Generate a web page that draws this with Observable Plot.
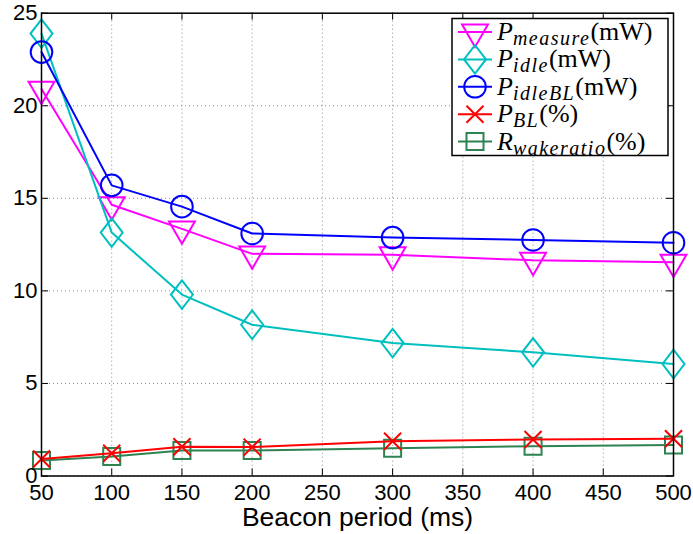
<!DOCTYPE html>
<html>
<head>
<meta charset="utf-8">
<script src="https://cdn.jsdelivr.net/npm/d3@7"></script>
<script src="https://cdn.jsdelivr.net/npm/@observablehq/plot@0.6"></script>
<style>
  html, body { margin: 0; padding: 0; background: #fff; }
  #chart { width: 693px; height: 534px; }
</style>
</head>
<body>
<div id="chart"></div>
<script>
// Beacon period (ms) on the x axis
const beaconPeriods = [50, 100, 150, 200, 300, 400, 500];

// Series values
const pMeasure = [20.9, 14.65, 13.35, 12.0, 11.95, 11.65, 11.55];  // mW
const pIdle    = [23.9, 13.15, 9.8, 8.17, 7.18, 6.68, 6.05];       // mW
const pIdleBL  = [22.9, 15.7, 14.55, 13.1, 12.88, 12.75, 12.6];    // mW
const pBL      = [0.92, 1.23, 1.58, 1.56, 1.88, 1.97, 2.01];       // %
const rWake    = [0.84, 1.05, 1.38, 1.38, 1.50, 1.61, 1.67];       // %

// Axis ticks and labels
const xTicks = [50, 100, 150, 200, 250, 300, 350, 400, 450, 500];
const yTicks = [0, 5, 10, 15, 20, 25];
const xLabel = "Beacon period (ms)";

// Legend text pieces: base letter, subscript, unit
const legendBases = ["P", "P", "P", "P", "R"];
const legendSubs  = ["measure", "idle", "idleBL", "BL", "wakeratio"];
const legendUnits = ["(mW)", "(mW)", "(mW)", "(%)", "(%)"];

// Marker shapes
const triangleDown = {
  draw(ctx, size) {
    const y = Math.sqrt(size / (3 * Math.sqrt(3)));
    const s = Math.sqrt(3) * y;
    ctx.moveTo(0, 2 * y);
    ctx.lineTo(-s, -y);
    ctx.lineTo(s, -y);
    ctx.closePath();
  }
};
const tallDiamond = {
  draw(ctx, size) {
    const a = Math.sqrt(size / 2.6);
    const b = 1.3 * a;
    ctx.moveTo(0, -b);
    ctx.lineTo(a, 0);
    ctx.lineTo(0, b);
    ctx.lineTo(-a, 0);
    ctx.closePath();
  }
};

const series = [
  {values: pMeasure, color: "#ff00ff", symbol: triangleDown, r: 9.6},
  {values: pIdle,    color: "#00bfbf", symbol: tallDiamond, r: 10.0},
  {values: pIdleBL,  color: "#0000ff", symbol: "circle", r: 10.8},
  {values: rWake,    color: "#2e8352", symbol: "square", r: 9.6},
  {values: pBL,      color: "#ff0000", symbol: "times", r: 7.8}
];

const W = 693, H = 534;
const mL = 41, mR = 20, mT = 12.7, mB = 58.5;
const plotW = W - mL - mR, plotH = H - mT - mB;
const tickLen = 7;

const gridStyle = {stroke: "#8c8c8c", strokeOpacity: 1, strokeWidth: 1, strokeDasharray: "1,3"};

const seriesMarks = series.flatMap(s => {
  const rows = beaconPeriods.map((b, i) => ({b, v: s.values[i]}));
  return [
    Plot.line(rows, {x: "b", y: "v", stroke: s.color, strokeWidth: 2}),
    Plot.dot(rows, {x: "b", y: "v", stroke: s.color, fill: "none", strokeWidth: 2, symbol: s.symbol, r: s.r})
  ];
});

const chart = Plot.plot({
  width: W,
  height: H,
  marginLeft: mL,
  marginRight: mR,
  marginTop: mT,
  marginBottom: mB,
  style: {fontFamily: "'Liberation Sans', Arial, Helvetica, sans-serif", background: "#fff", overflow: "visible", color: "#000"},
  x: {domain: [50, 500]},
  y: {domain: [0, 25]},
  marks: [
    Plot.gridX(xTicks, gridStyle),
    Plot.gridY(yTicks, gridStyle),
    // inward ticks on all four sides
    Plot.tickX(xTicks, {x: d => d, stroke: "#000", insetTop: plotH - tickLen}),
    Plot.tickX(xTicks, {x: d => d, stroke: "#000", insetBottom: plotH - tickLen}),
    Plot.tickY(yTicks, {y: d => d, stroke: "#000", insetRight: plotW - tickLen}),
    Plot.tickY(yTicks, {y: d => d, stroke: "#000", insetLeft: plotW - tickLen}),
    ...seriesMarks,
    Plot.frame({stroke: "#000", strokeWidth: 1.5}),
    Plot.axisX(xTicks, {tickSize: 0, tickPadding: 8, fontSize: 22, label: null, fill: "#000"}),
    Plot.axisY(yTicks, {tickSize: 0, tickPadding: 4, fontSize: 22, label: null, fill: "#000"}),
    Plot.text([xLabel], {frameAnchor: "bottom", lineAnchor: "middle", dy: 42, fontSize: 26.5, fill: "#000"})
  ]
});

document.getElementById("chart").appendChild(chart);

// Legend box in the upper-right corner of the plot area
const svg = d3.select(chart.tagName.toLowerCase() === "svg" ? chart : chart.querySelector("svg"));
const legend = svg.append("g").attr("class", "legend").attr("text-anchor", "start");
const lx = 452, ly = 18.5, lw = 216, lh = 137;
legend.append("rect")
  .attr("x", lx).attr("y", ly).attr("width", lw).attr("height", lh)
  .attr("fill", "#fff").attr("stroke", "#000").attr("stroke-width", 1.5);

const legendOrder = [0, 1, 2, 4, 3];   // series index for each legend row
legendOrder.forEach((si, row) => {
  const s = series[si];
  const cy = 32 + row * 27.4;
  const g = legend.append("g");
  g.append("line")
    .attr("x1", lx + 6).attr("x2", lx + 40).attr("y1", cy).attr("y2", cy)
    .attr("stroke", s.color).attr("stroke-width", 2);
  const sym = typeof s.symbol === "string"
    ? {circle: d3.symbolCircle, square: d3.symbolSquare, times: d3.symbolTimes}[s.symbol]
    : s.symbol;
  g.append("path")
    .attr("d", d3.symbol(sym, s.r * s.r * Math.PI)())
    .attr("transform", `translate(${lx + 23},${cy})`)
    .attr("fill", "none").attr("stroke", s.color).attr("stroke-width", 2);
  const t = g.append("text")
    .attr("x", lx + 45).attr("y", cy + 8)
    .attr("text-anchor", "start")
    .attr("font-family", "'Liberation Serif', 'Times New Roman', serif")
    .attr("font-size", 26).attr("fill", "#000");
  t.append("tspan").attr("font-style", "italic").text(legendBases[row]);
  t.append("tspan").attr("font-style", "italic").attr("font-size", 20)
    .attr("letter-spacing", 1.5).attr("dy", 5).text(legendSubs[row]);
  t.append("tspan").attr("dy", -5).text(legendUnits[row]);
});
</script>
</body>
</html>
